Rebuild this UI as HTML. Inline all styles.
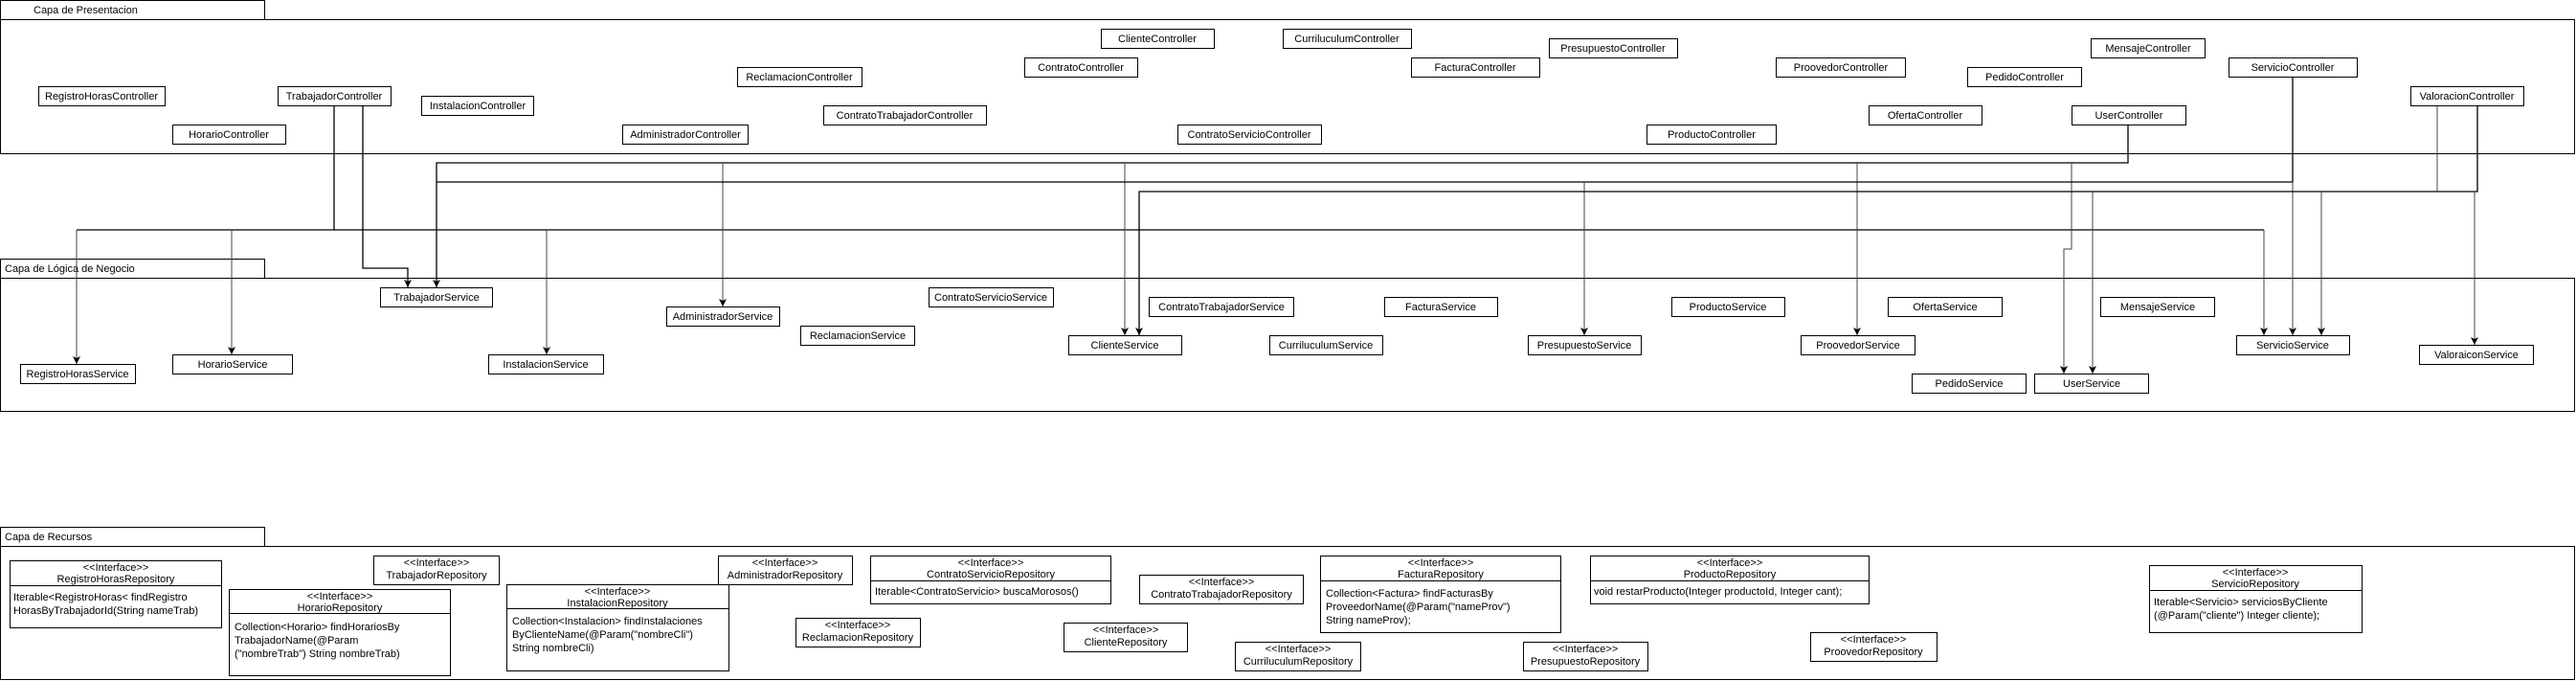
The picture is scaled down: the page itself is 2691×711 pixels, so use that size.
<!DOCTYPE html>
<html><head><meta charset="utf-8"><style>
html,body{margin:0;padding:0;background:#fff;}
svg{display:block;}
text{font-family:"Liberation Sans",Arial,sans-serif;font-size:11px;fill:#000;}
.b{fill:#fff;stroke:#000;stroke-width:1;}
.l{fill:none;stroke:#000;stroke-width:1.3;}
.g{fill:none;stroke:#444;stroke-width:1;}
</style></head><body>
<svg width="2691" height="711" viewBox="0 0 2691 711" xmlns="http://www.w3.org/2000/svg">
<defs><marker id="a" markerWidth="8" markerHeight="8" refX="4" refY="7" orient="auto" markerUnits="userSpaceOnUse"><path d="M0,0 L4,7 L8,0 L4,2 Z" fill="#000"/></marker>
<marker id="ad" markerWidth="8" markerHeight="10" refX="4" refY="9" orient="0" markerUnits="userSpaceOnUse"><path d="M0,1 L4,9 L8,1 L4,3 Z" fill="#000"/></marker></defs>

<!-- layers -->
<rect class="b" x="0.5" y="0.5" width="276" height="20"/><text x="35" y="14">Capa de Presentacion</text>
<rect class="b" x="0.5" y="20.5" width="2689" height="140" style="fill:none"/>
<rect class="b" x="0.5" y="270.5" width="276" height="20"/><text x="5" y="284">Capa de Lógica de Negocio</text>
<rect class="b" x="0.5" y="290.5" width="2689" height="139" style="fill:none"/>
<rect class="b" x="0.5" y="550.5" width="276" height="20"/><text x="5" y="564">Capa de Recursos</text>
<rect class="b" x="0.5" y="570.5" width="2689" height="139" style="fill:none"/>

<!-- connectors -->
<g>
<path class="l" d="M349 110 V240"/>
<path class="l" d="M80 240 H2365"/>
<path class="g" d="M2365 240 V350" marker-end="url(#ad)"/>
<path class="g" d="M80 240 V380" marker-end="url(#ad)"/>
<path class="g" d="M242 240 V370" marker-end="url(#ad)"/>
<path class="g" d="M571 240 V370" marker-end="url(#ad)"/>
<path class="l" d="M379 110 V280 H426 V300" marker-end="url(#ad)"/>
<path class="l" d="M2223 130 V170 H456 V300" marker-end="url(#ad)"/>
<path class="g" d="M755 170 V320" marker-end="url(#ad)"/>
<path class="g" d="M1175 170 V350" marker-end="url(#ad)"/>
<path class="g" d="M1940 170 V350" marker-end="url(#ad)"/>
<path class="g" d="M2164 170 V260 H2156 V390" marker-end="url(#ad)"/>
<path class="l" d="M2395 80 V190 H456"/>
<path class="g" d="M2395 190 V350" marker-end="url(#ad)"/>
<path class="g" d="M1655 190 V350" marker-end="url(#ad)"/>
<path class="l" d="M2588 110 V200 H1190 V350" marker-end="url(#ad)"/>
<path class="g" d="M2546 110 V200"/>
<path class="g" d="M2186 200 V390" marker-end="url(#ad)"/>
<path class="g" d="M2425 200 V350" marker-end="url(#ad)"/>
<path class="g" d="M2585 200 V360" marker-end="url(#ad)"/>
</g>

<!-- controllers -->
<g text-anchor="middle">
<rect class="b" x="40.5" y="90.5" width="132" height="20"/><text x="106" y="104">RegistroHorasController</text>
<rect class="b" x="290.5" y="90.5" width="118" height="20"/><text x="349" y="104">TrabajadorController</text>
<rect class="b" x="440.5" y="100.5" width="117" height="20"/><text x="499" y="114">InstalacionController</text>
<rect class="b" x="180.5" y="130.5" width="118" height="20"/><text x="239" y="144">HorarioController</text>
<rect class="b" x="650.5" y="130.5" width="131" height="20"/><text x="716" y="144">AdministradorController</text>
<rect class="b" x="770.5" y="70.5" width="130" height="20"/><text x="835" y="84">ReclamacionController</text>
<rect class="b" x="860.5" y="110.5" width="170" height="20"/><text x="945" y="124">ContratoTrabajadorController</text>
<rect class="b" x="1150.5" y="30.5" width="118" height="20"/><text x="1209" y="44">ClienteController</text>
<rect class="b" x="1340.5" y="30.5" width="134" height="20"/><text x="1407" y="44">CurriluculumController</text>
<rect class="b" x="1618.5" y="40.5" width="134" height="20"/><text x="1685" y="54">PresupuestoController</text>
<rect class="b" x="1070.5" y="60.5" width="118" height="20"/><text x="1129" y="74">ContratoController</text>
<rect class="b" x="1474.5" y="60.5" width="134" height="20"/><text x="1541" y="74">FacturaController</text>
<rect class="b" x="1230.5" y="130.5" width="150" height="20"/><text x="1305" y="144">ContratoServicioController</text>
<rect class="b" x="1720.5" y="130.5" width="135" height="20"/><text x="1788" y="144">ProductoController</text>
<rect class="b" x="1855.5" y="60.5" width="135" height="20"/><text x="1923" y="74">ProovedorController</text>
<rect class="b" x="2055.5" y="70.5" width="119" height="20"/><text x="2115" y="84">PedidoController</text>
<rect class="b" x="2184.5" y="40.5" width="119" height="20"/><text x="2244" y="54">MensajeController</text>
<rect class="b" x="2328.5" y="60.5" width="134" height="20"/><text x="2395" y="74">ServicioController</text>
<rect class="b" x="2518.5" y="90.5" width="118" height="20"/><text x="2577" y="104">ValoracionController</text>
<rect class="b" x="1952.5" y="110.5" width="118" height="20"/><text x="2011" y="124">OfertaController</text>
<rect class="b" x="2164.5" y="110.5" width="119" height="20"/><text x="2224" y="124">UserController</text>
</g>

<!-- services -->
<g text-anchor="middle">
<rect class="b" x="397.5" y="300.5" width="117" height="20"/><text x="456" y="314">TrabajadorService</text>
<rect class="b" x="696.5" y="320.5" width="118" height="20"/><text x="755" y="334">AdministradorService</text>
<rect class="b" x="836.5" y="340.5" width="119" height="20"/><text x="896" y="354">ReclamacionService</text>
<rect class="b" x="21.5" y="380.5" width="120" height="20"/><text x="81" y="394">RegistroHorasService</text>
<rect class="b" x="180.5" y="370.5" width="125" height="20"/><text x="243" y="384">HorarioService</text>
<rect class="b" x="510.5" y="370.5" width="120" height="20"/><text x="570" y="384">InstalacionService</text>
<rect class="b" x="970.5" y="300.5" width="130" height="20"/><text x="1035" y="314">ContratoServicioService</text>
<rect class="b" x="1200.5" y="310.5" width="151" height="20"/><text x="1276" y="324">ContratoTrabajadorService</text>
<rect class="b" x="1446.5" y="310.5" width="118" height="20"/><text x="1505" y="324">FacturaService</text>
<rect class="b" x="1746.5" y="310.5" width="118" height="20"/><text x="1805" y="324">ProductoService</text>
<rect class="b" x="1116.5" y="350.5" width="118" height="20"/><text x="1175" y="364">ClienteService</text>
<rect class="b" x="1326.5" y="350.5" width="118" height="20"/><text x="1385" y="364">CurriluculumService</text>
<rect class="b" x="1596.5" y="350.5" width="118" height="20"/><text x="1655" y="364">PresupuestoService</text>
<rect class="b" x="1972.5" y="310.5" width="119" height="20"/><text x="2032" y="324">OfertaService</text>
<rect class="b" x="2194.5" y="310.5" width="119" height="20"/><text x="2254" y="324">MensajeService</text>
<rect class="b" x="1881.5" y="350.5" width="119" height="20"/><text x="1941" y="364">ProovedorService</text>
<rect class="b" x="2336.5" y="350.5" width="118" height="20"/><text x="2395" y="364">ServicioService</text>
<rect class="b" x="2527.5" y="360.5" width="119" height="20"/><text x="2587" y="374">ValoraiconService</text>
<rect class="b" x="1997.5" y="390.5" width="119" height="20"/><text x="2057" y="404">PedidoService</text>
<rect class="b" x="2125.5" y="390.5" width="119" height="20"/><text x="2185" y="404">UserService</text>
</g>

<!-- repositories -->
<g>
<rect class="b" x="10.5" y="585.5" width="221" height="70"/><line class="b" x1="10" y1="611.5" x2="232" y2="611.5"/>
<text x="121" y="596" text-anchor="middle">&lt;&lt;Interface&gt;&gt;</text><text x="121" y="608" text-anchor="middle">RegistroHorasRepository</text>
<text x="14" y="627">Iterable&lt;RegistroHoras&lt; findRegistro</text><text x="14" y="641">HorasByTrabajadorId(String nameTrab)</text>

<rect class="b" x="390.5" y="580.5" width="131" height="30"/>
<text x="456" y="591" text-anchor="middle">&lt;&lt;Interface&gt;&gt;</text><text x="456" y="604" text-anchor="middle">TrabajadorRepository</text>

<rect class="b" x="239.5" y="615.5" width="231" height="90"/><line class="b" x1="239" y1="640.5" x2="471" y2="640.5"/>
<text x="355" y="626" text-anchor="middle">&lt;&lt;Interface&gt;&gt;</text><text x="355" y="638" text-anchor="middle">HorarioRepository</text>
<text x="245" y="658">Collection&lt;Horario&gt; findHorariosBy</text><text x="245" y="672">TrabajadorName(@Param</text><text x="245" y="686">("nombreTrab") String nombreTrab)</text>

<rect class="b" x="529.5" y="610.5" width="232" height="90"/><line class="b" x1="529" y1="635.5" x2="762" y2="635.5"/>
<text x="645" y="621" text-anchor="middle">&lt;&lt;Interface&gt;&gt;</text><text x="645" y="633" text-anchor="middle">InstalacionRepository</text>
<text x="535" y="652">Collection&lt;Instalacion&gt; findInstalaciones</text><text x="535" y="666">ByClienteName(@Param("nombreCli")</text><text x="535" y="680">String nombreCli)</text>

<rect class="b" x="750.5" y="580.5" width="140" height="30"/>
<text x="820" y="591" text-anchor="middle">&lt;&lt;Interface&gt;&gt;</text><text x="820" y="604" text-anchor="middle">AdministradorRepository</text>

<rect class="b" x="831.5" y="645.5" width="130" height="30"/>
<text x="896" y="656" text-anchor="middle">&lt;&lt;Interface&gt;&gt;</text><text x="896" y="669" text-anchor="middle">ReclamacionRepository</text>

<rect class="b" x="909.5" y="580.5" width="251" height="50"/><line class="b" x1="909" y1="606.5" x2="1161" y2="606.5"/>
<text x="1035" y="591" text-anchor="middle">&lt;&lt;Interface&gt;&gt;</text><text x="1035" y="603" text-anchor="middle">ContratoServicioRepository</text>
<text x="914" y="621">Iterable&lt;ContratoServicio&gt; buscaMorosos()</text>

<rect class="b" x="1190.5" y="600.5" width="171" height="30"/>
<text x="1276" y="611" text-anchor="middle">&lt;&lt;Interface&gt;&gt;</text><text x="1276" y="624" text-anchor="middle">ContratoTrabajadorRepository</text>

<rect class="b" x="1111.5" y="650.5" width="129" height="30"/>
<text x="1176" y="661" text-anchor="middle">&lt;&lt;Interface&gt;&gt;</text><text x="1176" y="674" text-anchor="middle">ClienteRepository</text>

<rect class="b" x="1290.5" y="670.5" width="131" height="30"/>
<text x="1356" y="681" text-anchor="middle">&lt;&lt;Interface&gt;&gt;</text><text x="1356" y="694" text-anchor="middle">CurriluculumRepository</text>

<rect class="b" x="1379.5" y="580.5" width="251" height="80"/><line class="b" x1="1379" y1="606.5" x2="1631" y2="606.5"/>
<text x="1505" y="591" text-anchor="middle">&lt;&lt;Interface&gt;&gt;</text><text x="1505" y="603" text-anchor="middle">FacturaRepository</text>
<text x="1385" y="623">Collection&lt;Factura&gt; findFacturasBy</text><text x="1385" y="637">ProveedorName(@Param("nameProv")</text><text x="1385" y="651">String nameProv);</text>

<rect class="b" x="1591.5" y="670.5" width="130" height="30"/>
<text x="1656" y="681" text-anchor="middle">&lt;&lt;Interface&gt;&gt;</text><text x="1656" y="694" text-anchor="middle">PresupuestoRepository</text>

<rect class="b" x="1661.5" y="580.5" width="291" height="50"/><line class="b" x1="1661" y1="606.5" x2="1953" y2="606.5"/>
<text x="1807" y="591" text-anchor="middle">&lt;&lt;Interface&gt;&gt;</text><text x="1807" y="603" text-anchor="middle">ProductoRepository</text>
<text x="1665" y="621">void restarProducto(Integer productoId, Integer cant);</text>

<rect class="b" x="1891.5" y="660.5" width="132" height="30"/>
<text x="1957" y="671" text-anchor="middle">&lt;&lt;Interface&gt;&gt;</text><text x="1957" y="684" text-anchor="middle">ProovedorRepository</text>

<rect class="b" x="2245.5" y="590.5" width="222" height="70"/><line class="b" x1="2245" y1="616.5" x2="2468" y2="616.5"/>
<text x="2356" y="601" text-anchor="middle">&lt;&lt;Interface&gt;&gt;</text><text x="2356" y="613" text-anchor="middle">ServicioRepository</text>
<text x="2250" y="632">Iterable&lt;Servicio&gt; serviciosByCliente</text><text x="2250" y="646">(@Param("cliente") Integer cliente);</text>
</g>
</svg>
</body></html>
